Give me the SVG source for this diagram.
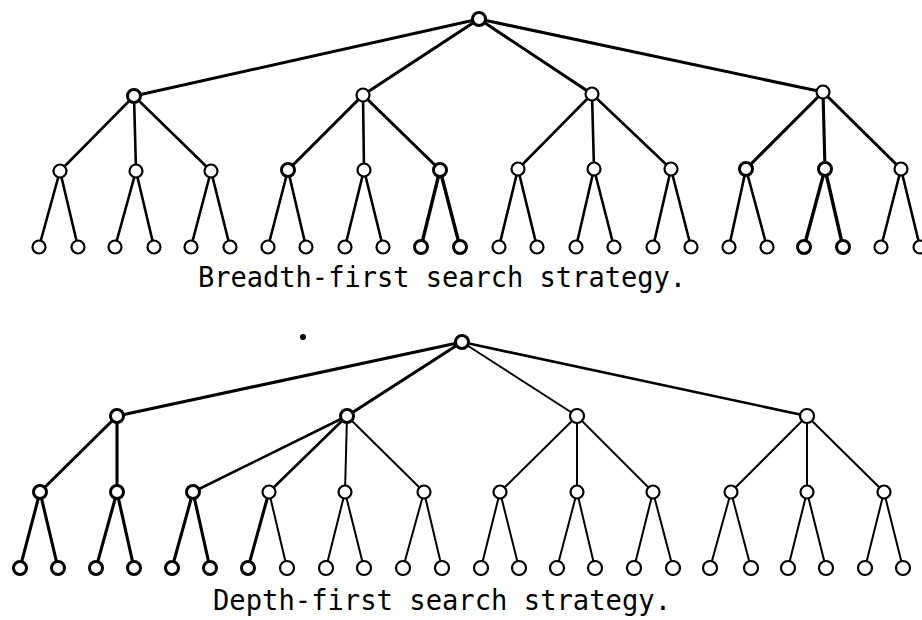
<svg xmlns="http://www.w3.org/2000/svg" width="922" height="620" viewBox="0 0 922 620">
  <style>
    .bg { fill: #ffffff; }
    line { stroke: #000; stroke-linecap: round; }
    .e1 { stroke-width: 3.1; }
    .e2 { stroke-width: 2.6; }
    .e3 { stroke-width: 2.0; }
    .eb { stroke-width: 3.4; }
    circle.n { fill: #fff; stroke: #000; stroke-width: 2.2; }
    circle.b { fill: #fff; stroke: #000; stroke-width: 3; }
    .cap { font-family: "DejaVu Sans Mono", "Liberation Mono", monospace; font-size: 29px; fill: #000; }
  </style>
  <rect class="bg" x="0" y="0" width="922" height="620"/>

  <!-- ===== Breadth-first tree ===== -->
  <g id="bfs-connectors">
    <!-- root to level 1 -->
    <line class="e1" x1="479" y1="19" x2="134" y2="96"/>
    <line class="e1" x1="479" y1="19" x2="363" y2="95"/>
    <line class="e1" x1="479" y1="19" x2="592" y2="94"/>
    <line class="e1" x1="479" y1="19" x2="823" y2="92"/>
    <!-- level 1 to level 2 -->
    <line class="e2" x1="134" y1="96" x2="60" y2="171"/>
    <line class="e2" x1="134" y1="96" x2="136" y2="171"/>
    <line class="e2" x1="134" y1="96" x2="211" y2="171"/>
    <line class="e1" x1="363" y1="95" x2="288" y2="170"/>
    <line class="e2" x1="363" y1="95" x2="364" y2="170"/>
    <line class="e1" x1="363" y1="95" x2="440" y2="170"/>
    <line class="e2" x1="592" y1="94" x2="518" y2="169"/>
    <line class="e2" x1="592" y1="94" x2="594" y2="169"/>
    <line class="e2" x1="592" y1="94" x2="671" y2="169"/>
    <line class="e1" x1="823" y1="92" x2="746" y2="169"/>
    <line class="e1" x1="823" y1="92" x2="825" y2="169"/>
    <line class="e1" x1="823" y1="92" x2="901" y2="169"/>
    <!-- level 2 to leaves -->
    <line class="e2" x1="60" y1="171" x2="39" y2="247"/>
    <line class="e2" x1="60" y1="171" x2="78" y2="247"/>
    <line class="e2" x1="136" y1="171" x2="115" y2="247"/>
    <line class="e2" x1="136" y1="171" x2="154" y2="247"/>
    <line class="e2" x1="211" y1="171" x2="191" y2="247"/>
    <line class="e2" x1="211" y1="171" x2="230" y2="247"/>
    <line class="e2" x1="288" y1="170" x2="268" y2="247"/>
    <line class="e2" x1="288" y1="170" x2="306" y2="247"/>
    <line class="e2" x1="364" y1="170" x2="345" y2="247"/>
    <line class="e2" x1="364" y1="170" x2="383" y2="247"/>
    <line class="eb" x1="440" y1="170" x2="421" y2="247"/>
    <line class="eb" x1="440" y1="170" x2="460" y2="247"/>
    <line class="e2" x1="518" y1="169" x2="499" y2="247"/>
    <line class="e2" x1="518" y1="169" x2="537" y2="247"/>
    <line class="e2" x1="594" y1="169" x2="576" y2="247"/>
    <line class="e2" x1="594" y1="169" x2="614" y2="247"/>
    <line class="e2" x1="671" y1="169" x2="653" y2="247"/>
    <line class="e2" x1="671" y1="169" x2="691" y2="247"/>
    <line class="e2" x1="746" y1="169" x2="729" y2="247"/>
    <line class="e2" x1="746" y1="169" x2="767" y2="247"/>
    <line class="eb" x1="825" y1="169" x2="804" y2="247"/>
    <line class="eb" x1="825" y1="169" x2="843" y2="247"/>
    <line class="e2" x1="901" y1="169" x2="881" y2="247"/>
    <line class="e2" x1="901" y1="169" x2="920" y2="247"/>
  </g>

  <g id="bfs-root"><circle class="b" cx="479" cy="19" r="6.5"/></g>
  <g id="bfs-1a"><circle class="b" cx="134" cy="96" r="6.5"/></g>
  <g id="bfs-1b"><circle class="n" cx="363" cy="95" r="6.5"/></g>
  <g id="bfs-1c"><circle class="n" cx="592" cy="94" r="6.5"/></g>
  <g id="bfs-1d"><circle class="n" cx="823" cy="92" r="6.5"/></g>

  <g id="bfs-2a"><circle class="n" cx="60" cy="171" r="6.5"/></g>
  <g id="bfs-2b"><circle class="n" cx="136" cy="171" r="6.5"/></g>
  <g id="bfs-2c"><circle class="n" cx="211" cy="171" r="6.5"/></g>
  <g id="bfs-2d"><circle class="b" cx="288" cy="170" r="6.5"/></g>
  <g id="bfs-2e"><circle class="n" cx="364" cy="170" r="6.5"/></g>
  <g id="bfs-2f"><circle class="b" cx="440" cy="170" r="6.5"/></g>
  <g id="bfs-2g"><circle class="n" cx="518" cy="169" r="6.5"/></g>
  <g id="bfs-2h"><circle class="n" cx="594" cy="169" r="6.5"/></g>
  <g id="bfs-2i"><circle class="n" cx="671" cy="169" r="6.5"/></g>
  <g id="bfs-2j"><circle class="b" cx="746" cy="169" r="6.5"/></g>
  <g id="bfs-2k"><circle class="b" cx="825" cy="169" r="6.5"/></g>
  <g id="bfs-2l"><circle class="n" cx="901" cy="169" r="6.5"/></g>

  <g id="bfs-3-01"><circle class="n" cx="39" cy="247" r="6.5"/></g>
  <g id="bfs-3-02"><circle class="n" cx="78" cy="247" r="6.5"/></g>
  <g id="bfs-3-03"><circle class="n" cx="115" cy="247" r="6.5"/></g>
  <g id="bfs-3-04"><circle class="n" cx="154" cy="247" r="6.5"/></g>
  <g id="bfs-3-05"><circle class="n" cx="191" cy="247" r="6.5"/></g>
  <g id="bfs-3-06"><circle class="n" cx="230" cy="247" r="6.5"/></g>
  <g id="bfs-3-07"><circle class="n" cx="268" cy="247" r="6.5"/></g>
  <g id="bfs-3-08"><circle class="n" cx="306" cy="247" r="6.5"/></g>
  <g id="bfs-3-09"><circle class="n" cx="345" cy="247" r="6.5"/></g>
  <g id="bfs-3-10"><circle class="n" cx="383" cy="247" r="6.5"/></g>
  <g id="bfs-3-11"><circle class="b" cx="421" cy="247" r="6.5"/></g>
  <g id="bfs-3-12"><circle class="b" cx="460" cy="247" r="6.5"/></g>
  <g id="bfs-3-13"><circle class="n" cx="499" cy="247" r="6.5"/></g>
  <g id="bfs-3-14"><circle class="n" cx="537" cy="247" r="6.5"/></g>
  <g id="bfs-3-15"><circle class="n" cx="576" cy="247" r="6.5"/></g>
  <g id="bfs-3-16"><circle class="n" cx="614" cy="247" r="6.5"/></g>
  <g id="bfs-3-17"><circle class="n" cx="653" cy="247" r="6.5"/></g>
  <g id="bfs-3-18"><circle class="n" cx="691" cy="247" r="6.5"/></g>
  <g id="bfs-3-19"><circle class="n" cx="729" cy="247" r="6.5"/></g>
  <g id="bfs-3-20"><circle class="n" cx="767" cy="247" r="6.5"/></g>
  <g id="bfs-3-21"><circle class="b" cx="804" cy="247" r="6.5"/></g>
  <g id="bfs-3-22"><circle class="b" cx="843" cy="247" r="6.5"/></g>
  <g id="bfs-3-23"><circle class="n" cx="881" cy="247" r="6.5"/></g>
  <g id="bfs-3-24"><circle class="n" cx="920" cy="247" r="6.5"/></g>

  <g id="bfs-caption">
    <text class="cap" x="198" y="287" textLength="488" lengthAdjust="spacingAndGlyphs">Breadth-first search strategy.</text>
  </g>

  <!-- stray ink dot -->
  <circle cx="303" cy="337" r="3" fill="#000"/>

  <!-- ===== Depth-first tree ===== -->
  <g id="dfs-connectors">
    <!-- root to level 1 -->
    <line class="e1" x1="462" y1="342" x2="117" y2="416"/>
    <line class="e1" x1="462" y1="342" x2="347" y2="416"/>
    <line class="e3" x1="462" y1="342" x2="577" y2="416"/>
    <line class="e2" x1="462" y1="342" x2="807" y2="416"/>
    <!-- level 1 to level 2 -->
    <line class="e1" x1="117" y1="416" x2="40" y2="492"/>
    <line class="e1" x1="117" y1="416" x2="117" y2="492"/>
    <line class="e2" x1="347" y1="416" x2="193" y2="492"/>
    <line class="e2" x1="347" y1="416" x2="269" y2="492"/>
    <line class="e3" x1="347" y1="416" x2="345" y2="492"/>
    <line class="e3" x1="347" y1="416" x2="424" y2="492"/>
    <line class="e3" x1="577" y1="416" x2="500" y2="492"/>
    <line class="e3" x1="577" y1="416" x2="577" y2="492"/>
    <line class="e3" x1="577" y1="416" x2="653" y2="492"/>
    <line class="e3" x1="807" y1="416" x2="731" y2="492"/>
    <line class="e3" x1="807" y1="416" x2="807" y2="492"/>
    <line class="e3" x1="807" y1="416" x2="884" y2="492"/>
    <!-- level 2 to leaves -->
    <line class="e1" x1="40" y1="492" x2="20" y2="568"/>
    <line class="e1" x1="40" y1="492" x2="58" y2="568"/>
    <line class="e1" x1="117" y1="492" x2="96" y2="568"/>
    <line class="e1" x1="117" y1="492" x2="134" y2="568"/>
    <line class="e1" x1="193" y1="492" x2="172" y2="568"/>
    <line class="e1" x1="193" y1="492" x2="210" y2="568"/>
    <line class="e1" x1="269" y1="492" x2="248" y2="568"/>
    <line class="e3" x1="269" y1="492" x2="287" y2="568"/>
    <line class="e3" x1="345" y1="492" x2="326" y2="568"/>
    <line class="e3" x1="345" y1="492" x2="364" y2="568"/>
    <line class="e3" x1="424" y1="492" x2="403" y2="568"/>
    <line class="e3" x1="424" y1="492" x2="442" y2="568"/>
    <line class="e3" x1="500" y1="492" x2="481" y2="568"/>
    <line class="e3" x1="500" y1="492" x2="519" y2="568"/>
    <line class="e3" x1="577" y1="492" x2="557" y2="568"/>
    <line class="e3" x1="577" y1="492" x2="595" y2="568"/>
    <line class="e3" x1="653" y1="492" x2="634" y2="568"/>
    <line class="e3" x1="653" y1="492" x2="673" y2="568"/>
    <line class="e3" x1="731" y1="492" x2="710" y2="568"/>
    <line class="e3" x1="731" y1="492" x2="751" y2="568"/>
    <line class="e3" x1="807" y1="492" x2="788" y2="568"/>
    <line class="e3" x1="807" y1="492" x2="826" y2="568"/>
    <line class="e3" x1="884" y1="492" x2="865" y2="568"/>
    <line class="e3" x1="884" y1="492" x2="903" y2="568"/>
  </g>

  <g id="dfs-root"><circle class="b" cx="462" cy="342" r="6.5"/></g>
  <g id="dfs-1a"><circle class="b" cx="117" cy="416" r="6.5"/></g>
  <g id="dfs-1b"><circle class="b" cx="347" cy="416" r="6.5"/></g>
  <g id="dfs-1c"><circle class="n" cx="577" cy="416" r="7"/></g>
  <g id="dfs-1d"><circle class="n" cx="807" cy="416" r="7"/></g>

  <g id="dfs-2a"><circle class="b" cx="40" cy="492" r="6.5"/></g>
  <g id="dfs-2b"><circle class="b" cx="117" cy="492" r="6.5"/></g>
  <g id="dfs-2c"><circle class="b" cx="193" cy="492" r="6.5"/></g>
  <g id="dfs-2d"><circle class="n" cx="269" cy="492" r="6.5"/></g>
  <g id="dfs-2e"><circle class="n" cx="345" cy="492" r="6.5"/></g>
  <g id="dfs-2f"><circle class="n" cx="424" cy="492" r="6.5"/></g>
  <g id="dfs-2g"><circle class="n" cx="500" cy="492" r="6.5"/></g>
  <g id="dfs-2h"><circle class="n" cx="577" cy="492" r="6.5"/></g>
  <g id="dfs-2i"><circle class="n" cx="653" cy="492" r="6.5"/></g>
  <g id="dfs-2j"><circle class="n" cx="731" cy="492" r="6.5"/></g>
  <g id="dfs-2k"><circle class="n" cx="807" cy="492" r="6.5"/></g>
  <g id="dfs-2l"><circle class="n" cx="884" cy="492" r="6.5"/></g>

  <g id="dfs-3-01"><circle class="b" cx="20" cy="568" r="6.5"/></g>
  <g id="dfs-3-02"><circle class="b" cx="58" cy="568" r="6.5"/></g>
  <g id="dfs-3-03"><circle class="b" cx="96" cy="568" r="6.5"/></g>
  <g id="dfs-3-04"><circle class="b" cx="134" cy="568" r="6.5"/></g>
  <g id="dfs-3-05"><circle class="b" cx="172" cy="568" r="6.5"/></g>
  <g id="dfs-3-06"><circle class="b" cx="210" cy="568" r="6.5"/></g>
  <g id="dfs-3-07"><circle class="b" cx="248" cy="568" r="6.5"/></g>
  <g id="dfs-3-08"><circle class="n" cx="287" cy="568" r="7"/></g>
  <g id="dfs-3-09"><circle class="n" cx="326" cy="568" r="7"/></g>
  <g id="dfs-3-10"><circle class="n" cx="364" cy="568" r="7"/></g>
  <g id="dfs-3-11"><circle class="n" cx="403" cy="568" r="7"/></g>
  <g id="dfs-3-12"><circle class="n" cx="442" cy="568" r="7"/></g>
  <g id="dfs-3-13"><circle class="n" cx="481" cy="568" r="7"/></g>
  <g id="dfs-3-14"><circle class="n" cx="519" cy="568" r="7"/></g>
  <g id="dfs-3-15"><circle class="n" cx="557" cy="568" r="7"/></g>
  <g id="dfs-3-16"><circle class="n" cx="595" cy="568" r="7"/></g>
  <g id="dfs-3-17"><circle class="n" cx="634" cy="568" r="7"/></g>
  <g id="dfs-3-18"><circle class="n" cx="673" cy="568" r="7"/></g>
  <g id="dfs-3-19"><circle class="n" cx="710" cy="568" r="7"/></g>
  <g id="dfs-3-20"><circle class="n" cx="751" cy="568" r="7"/></g>
  <g id="dfs-3-21"><circle class="n" cx="788" cy="568" r="7"/></g>
  <g id="dfs-3-22"><circle class="n" cx="826" cy="568" r="7"/></g>
  <g id="dfs-3-23"><circle class="n" cx="865" cy="568" r="7"/></g>
  <g id="dfs-3-24"><circle class="n" cx="903" cy="568" r="7"/></g>

  <g id="dfs-caption">
    <text class="cap" x="213" y="610" textLength="458" lengthAdjust="spacingAndGlyphs">Depth-first search strategy.</text>
  </g>
</svg>
